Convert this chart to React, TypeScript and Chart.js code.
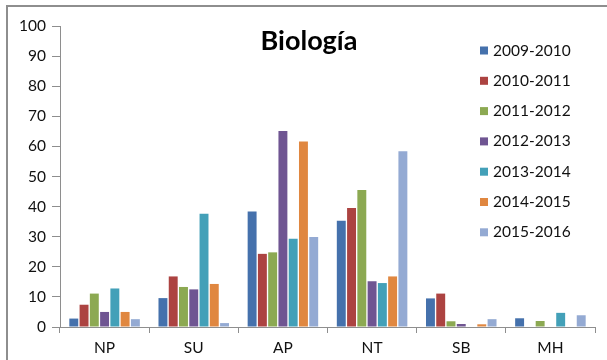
import React, { useEffect, useRef } from "react";
import { Chart, registerables } from "chart.js";

Chart.register(...registerables);

const categories = ["NP", "SU", "AP", "NT", "SB", "MH"];
const seriesNames = ["2009-2010", "2010-2011", "2011-2012", "2012-2013", "2013-2014", "2014-2015", "2015-2016"];
const s2009 = [2.8, 9.6, 38.4, 35.3, 9.5, 2.9];
const s2010 = [7.4, 16.8, 24.3, 39.5, 11.1, 0];
const s2011 = [11.1, 13.3, 24.8, 45.5, 1.9, 2.0];
const s2012 = [5.0, 12.5, 65.1, 15.2, 1.0, 0];
const s2013 = [12.8, 37.6, 29.3, 14.6, 0, 4.7];
const s2014 = [5.0, 14.3, 61.6, 16.8, 0.9, 0];
const s2015 = [2.6, 1.3, 29.9, 58.4, 2.6, 3.9];
const seriesValues = [s2009, s2010, s2011, s2012, s2013, s2014, s2015];
const colors = ["#4571AC", "#AC4341", "#8CA952", "#6F5592", "#43A0B8", "#E08740", "#94AAD3"];
const titleText = "Biología";

const FONT = "Lato, 'Open Sans', sans-serif";

const overlayPlugin = {
  id: "overlay",
  afterDraw(chart: any) {
    const ctx = chart.ctx;
    ctx.save();
    // outer frame
    ctx.strokeStyle = "#8e8e8e";
    ctx.lineWidth = 2;
    ctx.beginPath();
    ctx.moveTo(7, 400);
    ctx.lineTo(7, 6);
    ctx.lineTo(700, 6);
    ctx.stroke();
    // title
    ctx.fillStyle = "#000";
    ctx.font = "bold 27px " + FONT;
    ctx.textAlign = "center";
    ctx.textBaseline = "middle";
    ctx.fillText(titleText, 309, 41);
    // legend
    ctx.font = "15.5px " + FONT;
    ctx.textAlign = "left";
    chart.data.datasets.forEach((ds: any, i: number) => {
      const y = 50.5 + i * 30.3;
      ctx.fillStyle = ds.backgroundColor;
      ctx.fillRect(480, y - 4, 8, 8);
      ctx.fillStyle = "#111";
      ctx.fillText(ds.label, 493, y);
    });
    ctx.restore();
  },
};

export default function App() {
  const ref = useRef<HTMLCanvasElement>(null);
  useEffect(() => {
    if (!ref.current) return;
    const chart = new Chart(ref.current, {
      type: "bar",
      data: {
        labels: categories,
        datasets: seriesNames.map((name, i) => ({
          label: name,
          data: seriesValues[i],
          backgroundColor: colors[i],
          borderWidth: 0,
          barPercentage: 0.87,
          categoryPercentage: 0.806,
        })),
      },
      options: {
        animation: false,
        responsive: false,
        layout: { padding: { left: 0, right: 12, top: 26, bottom: 0 } },
        plugins: {
          legend: { display: false },
          title: { display: false },
          tooltip: { enabled: false },
        },
        scales: {
          x: {
            grid: {
              offset: true,
              drawOnChartArea: false,
              drawTicks: true,
              tickLength: 6,
              color: "#8e8e8e",
            },
            border: { color: "#8e8e8e", width: 1 },
            ticks: { color: "#111", font: { family: FONT, size: 15.5 }, padding: 6 },
            afterFit(scale: any) {
              scale.height = 33;
            },
          },
          y: {
            min: 0,
            max: 100,
            ticks: { stepSize: 10, color: "#111", font: { family: FONT, size: 15.5 }, padding: 6 },
            grid: { drawOnChartArea: false, drawTicks: true, tickLength: 8, color: "#8e8e8e" },
            border: { color: "#8e8e8e", width: 1 },
            afterFit(scale: any) {
              scale.width = 60;
            },
          },
        },
      },
      plugins: [overlayPlugin],
    });
    return () => chart.destroy();
  }, []);
  return (
    <div style={{ position: "fixed", left: 0, top: 0, width: 607, height: 360, background: "#fff" }}>
      <canvas ref={ref} width={607} height={360} />
    </div>
  );
}
